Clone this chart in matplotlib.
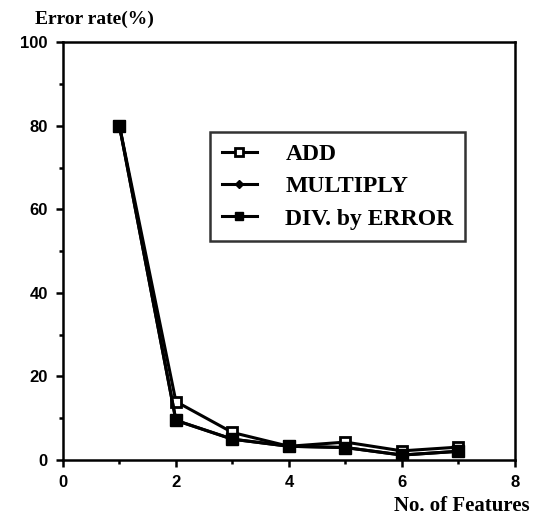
import matplotlib.pyplot as plt
from matplotlib.ticker import MultipleLocator

features = [1, 2, 3, 4, 5, 6, 7]
add_err = [80, 14, 6.6, 3.3, 4.3, 2.2, 3.1]
mult_err = [80, 9.5, 5.0, 3.3, 3.0, 1.2, 2.1]
div_err = [80, 9.5, 5.0, 3.3, 3.0, 1.2, 2.1]

serif = {'family': 'Liberation Serif', 'weight': 'bold'}
sans = {'family': 'Liberation Sans', 'weight': 'bold'}

fig = plt.figure(figsize=(5.38, 5.27), dpi=100)
ax = fig.add_axes([0.117, 0.127, 0.84, 0.793])

ax.plot(features, add_err, color='black', lw=2.2, marker='s', ms=7,
        mfc='white', mec='black', mew=2, label='ADD')
ax.plot(features, mult_err, color='black', lw=2.2, marker='D', ms=5,
        mfc='black', mec='black', label='MULTIPLY')
ax.plot(features, div_err, color='black', lw=2.2, marker='s', ms=8,
        mfc='black', mec='black', label='DIV. by ERROR')

ax.set_xlim(0, 8)
ax.set_ylim(0, 100)
ax.xaxis.set_major_locator(MultipleLocator(2))
ax.xaxis.set_minor_locator(MultipleLocator(1))
ax.yaxis.set_major_locator(MultipleLocator(20))
ax.yaxis.set_minor_locator(MultipleLocator(10))
ax.tick_params(which='major', direction='out', length=5, width=1.8, pad=6)
ax.tick_params(which='minor', direction='out', length=3, width=1.8)
for lab in ax.get_xticklabels() + ax.get_yticklabels():
    lab.set_fontproperties(sans)
    lab.set_fontsize(12)
for sp in ax.spines.values():
    sp.set_linewidth(1.8)

fig.text(0.065, 0.955, 'Error rate(%)', fontsize=14, **serif)
fig.text(0.985, 0.03, 'No. of Features', fontsize=15, ha='right', **serif)

leg = ax.legend(loc='upper left', bbox_to_anchor=(0.325, 0.785), prop={**serif, 'size': 17},
                frameon=True, fancybox=False, edgecolor='black', handlelength=1.5,
                borderpad=0.5, labelspacing=0.45, handletextpad=1.2, markerscale=0.75,
                borderaxespad=0)
leg.get_frame().set_linewidth(1.8)

fig.savefig('out.png', dpi=100)
